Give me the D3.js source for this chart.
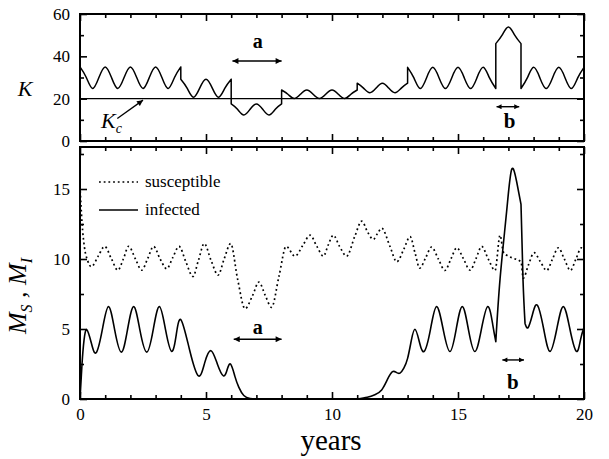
<!DOCTYPE html>
<html><head><meta charset="utf-8">
<script src="https://cdn.jsdelivr.net/npm/d3@7"></script>
<style>
body{margin:0;background:#fff}
svg text{font-family:'Liberation Serif','Times New Roman',Tinos,'DejaVu Serif',serif !important;fill:#000}
</style>
</head><body>
<svg id="c" width="609" height="459" font-family="Liberation Serif, DejaVu Serif, serif"></svg>
<script>
// ---------- data ----------
// carrying capacity K(t); a repeated time marks a jump / corner
const kTime = [0,0.25,0.5,0.75,1,1.25,1.5,1.75,2,2.25,2.5,2.75,3,3.25,3.5,3.75,4,
  4,4.25,4.5,4.75,5,5.25,5.5,5.75,6,
  6,6.25,6.5,6.75,7,7.25,7.5,7.75,8,
  8,8.25,8.5,8.75,9,9.25,9.5,9.75,10,10.25,10.5,10.75,11,
  11,11.25,11.5,11.75,12,12.25,12.5,12.75,13,
  13,13.25,13.5,13.75,14,14.25,14.5,14.75,15,15.25,15.5,15.75,16,16.25,16.5,
  16.5,16.75,17,17.25,17.5,
  17.5,17.75,18,18.25,18.5,18.75,19,19.25,19.5,19.75,20];
const kValue = [35,30,24.8,30,35,30,24.8,30,35,30,24.8,30,35,30,24.8,30,35,
  29.2,25,20.7,25,29.2,25,20.7,25,29.2,
  17.5,15,12.3,15,17.5,15,12.3,15,17.5,
  24.1,22.1,20.1,22.1,24.1,22.1,20.1,22.1,24.1,22.1,20.1,22.1,24.1,
  27.3,25,22.8,25,27.3,25,22.8,25,27.3,
  34.8,29.8,24.8,29.8,34.8,29.8,24.8,29.8,34.8,29.8,24.8,29.8,34.8,29.8,24.8,
  46,50,53.8,50,46,
  24.8,29.8,34.8,29.8,24.8,29.8,34.8,29.8,24.8,29.8,34.8];
const kCritical = 20;

// susceptible M_S(t)
const sTime = [0,0.08,0.18,0.3,0.45,0.72,0.98,1.25,1.5,1.72,1.93,2.2,2.45,2.68,2.92,3.18,3.44,3.68,3.93,
  4.2,4.48,4.7,4.93,5.2,5.48,5.72,5.98,6.25,6.55,6.85,7.1,7.35,7.6,7.9,8.18,8.53,8.85,9.13,9.4,9.66,9.85,
  10.05,10.3,10.58,10.9,11.18,11.42,11.64,11.8,11.97,12.3,12.57,12.85,13.1,13.3,13.48,13.72,13.95,
  14.22,14.48,14.72,14.95,15.22,15.48,15.72,15.94,16.2,16.47,16.67,16.8,17.0,17.2,17.5,17.59,17.8,
  18.02,18.27,18.52,18.75,18.98,19.22,19.46,19.68,19.9,20];
const sValue = [15.2,12.6,10.8,9.9,9.45,10.2,10.9,10.0,9.2,10.0,10.9,10.0,9.2,10.0,10.9,10.0,9.3,10.1,10.9,
  9.8,8.75,9.9,11.1,9.9,8.85,10.0,11.1,8.6,6.45,7.4,8.35,7.4,6.55,8.8,10.9,10.2,11.0,11.7,10.9,10.2,11.0,
  11.7,10.9,10.2,11.6,12.7,11.9,11.4,11.8,12.2,10.9,9.8,10.7,11.6,10.4,9.35,10.1,10.85,
  10.0,9.18,10.0,10.8,10.0,9.2,10.05,10.9,10.0,9.18,11.7,10.5,10.2,10.05,9.8,8.63,9.6,
  10.45,9.8,9.18,10.0,10.8,10.0,9.18,10.0,10.8,10.6];

// infected M_I(t); repeated time = corner
const iTime = [0,0.08,0.16,0.27,0.45,0.64,0.88,1.13,1.38,1.64,1.88,2.13,2.38,2.65,2.9,3.15,3.4,3.64,3.82,
  4.01,4.35,4.7,4.95,5.2,5.45,5.69,5.84,5.98,6.15,6.3,6.5,6.75,7,7,11,11,11.4,11.7,11.97,12.2,12.4,12.55,12.7,
  12.85,13.0,13.15,13.29,13.45,13.65,13.9,14.15,14.42,14.68,14.92,15.17,15.42,15.67,15.92,16.18,16.38,
  16.5,16.5,16.67,16.93,17.13,17.33,17.5,17.5,17.58,17.66,17.66,17.78,17.95,18.15,18.4,18.65,18.92,19.18,19.44,19.7,19.87,20];
const iValue = [0,2.5,4.2,4.95,4.0,3.3,4.9,6.6,4.9,3.35,4.9,6.6,4.9,3.35,4.9,6.6,4.9,3.4,4.6,
  5.65,3.5,1.65,2.6,3.45,2.5,1.65,2.1,2.48,1.6,0.85,0.25,0.03,0,0,0,0,0.12,0.3,0.65,1.4,1.95,1.9,1.85,
  2.2,2.9,4.2,4.98,4.2,3.39,4.9,6.6,4.9,3.39,4.9,6.6,4.9,3.39,4.9,6.6,5.3,
  4.1,4.1,8.6,13.4,16.4,15.5,13.9,13.9,8.5,5.4,5.4,5.1,6.0,6.7,5.0,3.4,5.0,6.6,5.0,3.4,4.3,5.1];

const xTickLabels = [0,5,10,15,20];
const kTickLabels = [0,20,40,60];
const mTickLabels = [0,5,10,15];

// ---------- drawing ----------
const SERIF = "'Liberation Serif','Times New Roman',Tinos,'DejaVu Serif',serif";
const svg = d3.select("#c");
const x  = d3.scaleLinear().domain([0,20]).range([80,584]);
const yK = d3.scaleLinear().domain([0,60]).range([141,14]);
const yM = d3.scaleLinear().domain([0,18]).range([399,147]);

const defs = svg.append("defs");
defs.append("marker").attr("id","ah").attr("viewBox","0 0 10 10")
  .attr("refX",10).attr("refY",5).attr("markerWidth",8).attr("markerHeight",6)
  .attr("markerUnits","userSpaceOnUse").attr("orient","auto-start-reverse")
  .append("path").attr("d","M0,0L10,5L0,10Z").attr("fill","#000");
defs.append("marker").attr("id","ahs").attr("viewBox","0 0 10 10")
  .attr("refX",10).attr("refY",5).attr("markerWidth",6).attr("markerHeight",5)
  .attr("markerUnits","userSpaceOnUse").attr("orient","auto-start-reverse")
  .append("path").attr("d","M0,0L10,5L0,10Z").attr("fill","#000");

function segments(ts, vs){
  const segs=[]; let cur=[];
  ts.forEach((t,i)=>{ if(i>0 && t===ts[i-1]){segs.push(cur); cur=[];} cur.push([t,vs[i]]); });
  segs.push(cur); return segs.filter(s=>s.length>0);
}
function pathOf(segs, curve, ys){
  const line=d3.line().x(d=>x(d[0])).y(d=>ys(d[1])).curve(curve);
  return segs.map((s,i)=>{
    if(s.length===1) return `L${x(s[0][0])},${ys(s[0][1])}`;
    const p=line(s); return i? p.replace(/^M/,"L"):p;}).join("");
}

function panelAxes(ys, yMajor, yMinor, showXLabels){
  const [y0,y1] = ys.range();
  const minorX = d3.range(0,21,1).filter(v=>v%5!==0);
  const tickFont = g=>{g.attr("font-family",SERIF).attr("font-size",17);
    g.selectAll("text").style("font-size","17px").style("font-family",SERIF);};
  const clean = g=>{g.select(".domain").remove(); g.selectAll("line").attr("stroke-width",1.6);};
  svg.append("g").attr("transform",`translate(0,${y0})`)
    .call(d3.axisBottom(x).tickValues(xTickLabels).tickSize(-7).tickPadding(9)
      .tickFormat(showXLabels? d3.format("d") : ()=>""))
    .call(clean).call(tickFont);
  svg.append("g").attr("transform",`translate(0,${y0})`)
    .call(d3.axisBottom(x).tickValues(minorX).tickSize(-4).tickFormat(()=>"")).call(clean);
  svg.append("g").attr("transform",`translate(0,${y1})`)
    .call(d3.axisTop(x).tickValues(xTickLabels).tickSize(-7).tickFormat(()=>"")).call(clean);
  svg.append("g").attr("transform",`translate(0,${y1})`)
    .call(d3.axisTop(x).tickValues(minorX).tickSize(-4).tickFormat(()=>"")).call(clean);
  svg.append("g").attr("transform",`translate(${x(0)},0)`)
    .call(d3.axisLeft(ys).tickValues(yMajor).tickSize(-7).tickPadding(10).tickFormat(d3.format("d")))
    .call(clean).call(tickFont);
  svg.append("g").attr("transform",`translate(${x(0)},0)`)
    .call(d3.axisLeft(ys).tickValues(yMinor).tickSize(-4).tickFormat(()=>"")).call(clean);
  svg.append("g").attr("transform",`translate(${x(20)},0)`)
    .call(d3.axisRight(ys).tickValues(yMajor).tickSize(-7).tickFormat(()=>"")).call(clean);
  svg.append("g").attr("transform",`translate(${x(20)},0)`)
    .call(d3.axisRight(ys).tickValues(yMinor).tickSize(-4).tickFormat(()=>"")).call(clean);
  svg.append("rect").attr("x",x(0)).attr("y",y1).attr("width",x(20)-x(0)).attr("height",y0-y1)
    .attr("fill","none").attr("stroke","#000").attr("stroke-width",2);
}

// ----- top panel -----
svg.append("line").attr("x1",x(0)).attr("x2",x(20)).attr("y1",yK(kCritical)).attr("y2",yK(kCritical))
  .attr("stroke","#000").attr("stroke-width",1.1);
svg.append("path").attr("d",pathOf(segments(kTime,kValue),d3.curveNatural,yK))
  .attr("fill","none").attr("stroke","#000").attr("stroke-width",1.5).attr("stroke-linejoin","round");
panelAxes(yK, kTickLabels, [10,30,50], false);

// ----- bottom panel -----
svg.append("path").attr("d",pathOf(segments(sTime,sValue),d3.curveMonotoneX,yM))
  .attr("fill","none").attr("stroke","#000").attr("stroke-width",1.7).attr("stroke-dasharray","1.8,2.9");
svg.append("path").attr("d",pathOf(segments(iTime,iValue),d3.curveNatural,yM))
  .attr("fill","none").attr("stroke","#000").attr("stroke-width",1.6).attr("stroke-linejoin","round");
panelAxes(yM, mTickLabels, [2.5,7.5,12.5,17.5], true);

// ----- labels -----
function txt(xx,yy,str,size){
  return svg.append("text").attr("x",xx).attr("y",yy).attr("font-family",SERIF)
    .style("font-family",SERIF).style("font-size",size+"px").text(str);
}
txt(25,96,"K",22).attr("text-anchor","middle").style("font-style","italic");

const kc = txt(101,128,null,22).style("font-style","italic");
kc.append("tspan").text("K");
kc.append("tspan").attr("dy",5).style("font-size","14px").text("c");
svg.append("line").attr("x1",x(1.48)).attr("y1",yK(10.6)).attr("x2",x(2.5)).attr("y2",yK(19.3))
  .attr("stroke","#000").attr("stroke-width",1.3).attr("marker-end","url(#ah)");

function dbl(t0,t1,yy,m){
  svg.append("line").attr("x1",x(t0)).attr("x2",x(t1)).attr("y1",yy).attr("y2",yy)
    .attr("stroke","#000").attr("stroke-width",1.4)
    .attr("marker-start",`url(#${m})`).attr("marker-end",`url(#${m})`);
}
dbl(6.05,8.0,yK(37.8),"ah");
txt(x(7.05),yK(44),"a",20).attr("text-anchor","middle").style("font-weight","bold");
dbl(16.53,17.43,yK(16.2),"ahs");
txt(x(17.05),yK(6.1),"b",21).attr("text-anchor","middle").style("font-weight","bold");

dbl(6.1,8.0,yM(4.27),"ah");
txt(x(7.05),yM(4.65),"a",20).attr("text-anchor","middle").style("font-weight","bold");
dbl(16.76,17.62,yM(2.79),"ahs");
txt(x(17.18),yM(0.72),"b",21).attr("text-anchor","middle").style("font-weight","bold");

// legend
svg.append("line").attr("x1",99).attr("x2",138).attr("y1",182).attr("y2",182)
  .attr("stroke","#000").attr("stroke-width",1.7).attr("stroke-dasharray","1.8,2.9");
txt(145,187,"susceptible",17);
svg.append("line").attr("x1",99).attr("x2",138).attr("y1",210).attr("y2",210)
  .attr("stroke","#000").attr("stroke-width",1.6);
txt(145,215,"infected",17);

// y label bottom
const yl = svg.append("text").attr("transform","translate(26,296) rotate(-90)").attr("text-anchor","middle")
  .attr("font-family",SERIF).style("font-family",SERIF)
  .style("font-size","26px").style("font-style","italic");
yl.append("tspan").text("M");
yl.append("tspan").attr("dy",6).style("font-size","16px").text("S");
yl.append("tspan").attr("dy",-6).text(" , M");
yl.append("tspan").attr("dy",6).style("font-size","16px").text("I");

// x label
txt(x(10)-1,450,"years",29).attr("text-anchor","middle");
</script>
</body></html>
